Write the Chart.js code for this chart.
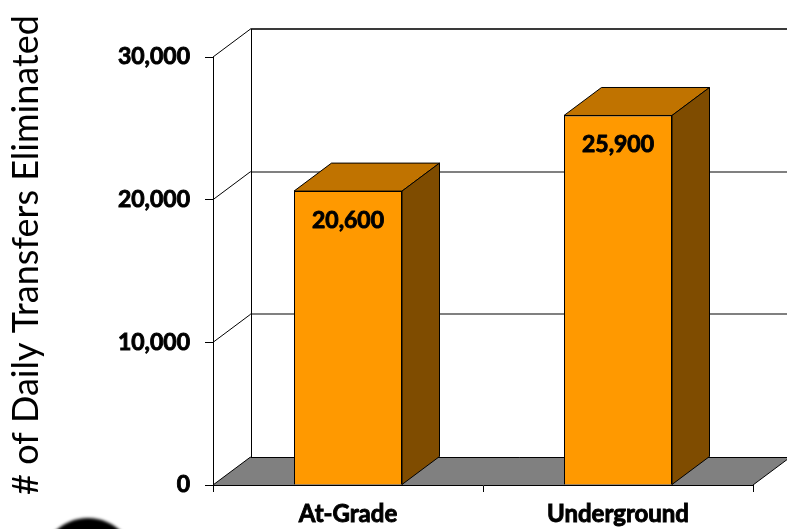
<!DOCTYPE html>
<html>
<head>
<meta charset="utf-8">
<title># of Daily Transfers Eliminated</title>
<script src="https://cdn.jsdelivr.net/npm/chart.js@4/dist/chart.umd.min.js"></script>
<style>
  html, body { margin: 0; padding: 0; background: #fff; overflow: hidden; }
  canvas { display: block; }
</style>
</head>
<body>
<canvas id="chart" width="787" height="529"></canvas>
<script>
// Daily transfers eliminated, by alignment option
const categories = ['At-Grade', 'Underground'];
const transfersEliminated = [20600, 25900];
const yTicks = [0, 10000, 20000, 30000];
const axisTitle = '# of Daily Transfers Eliminated';

// Oblique depth of the pseudo-3D box (walls, floor and bars)
const DX = 37.5;
const DY = -28;

const FONT = 'Lato, "Open Sans", "DejaVu Sans", sans-serif';
// extra outline to thicken the bold labels
const BOLD_STROKE = 0.9;

function poly(ctx, pts, fill, stroke) {
  ctx.beginPath();
  ctx.moveTo(pts[0][0], pts[0][1]);
  for (let i = 1; i < pts.length; i++) ctx.lineTo(pts[i][0], pts[i][1]);
  ctx.closePath();
  if (fill) { ctx.fillStyle = fill; ctx.fill(); }
  if (stroke) { ctx.strokeStyle = stroke; ctx.lineWidth = 1; ctx.stroke(); }
}

function line(ctx, x1, y1, x2, y2, color, w) {
  ctx.beginPath();
  ctx.moveTo(x1, y1);
  ctx.lineTo(x2, y2);
  ctx.strokeStyle = color;
  ctx.lineWidth = w || 1;
  ctx.stroke();
}

const depthPlugin = {
  id: 'depth3d',
  beforeDraw(chart) {
    const ctx = chart.ctx;
    ctx.save();
    ctx.fillStyle = '#ffffff';
    ctx.fillRect(0, 0, chart.width, chart.height);
    ctx.restore();
  },
  beforeDatasetsDraw(chart) {
    const { ctx, chartArea: a, scales: { y } } = chart;
    const farRight = chart.width + 20;
    const yMax = yTicks[yTicks.length - 1];
    ctx.save();

    // floor
    poly(ctx, [[a.left, a.bottom], [a.left + DX, a.bottom + DY],
               [a.right + DX, a.bottom + DY], [a.right, a.bottom]], '#808080');
    line(ctx, a.left, a.bottom, a.left + DX, a.bottom + DY, '#000');
    line(ctx, a.left + DX, Math.round(a.bottom + DY) + 0.5, farRight, Math.round(a.bottom + DY) + 0.5, '#000');
    line(ctx, a.right, a.bottom, a.right + DX, a.bottom + DY, '#000');

    // back-wall gridlines and side-wall diagonals
    yTicks.forEach(v => {
      const py = y.getPixelForValue(v);
      const by = Math.round(py + DY);
      if (v > 0 && v < yMax) line(ctx, a.left + DX, by, farRight, by, '#808080', 2);
      if (v === yMax) line(ctx, a.left + DX, by, farRight, by, '#3a3a3a', 2);
      if (v > 0) line(ctx, a.left, py, a.left + DX, py + DY, '#000');
    });

    // back-left corner of the walls
    const cx = Math.round(a.left + DX) + 0.5;
    line(ctx, cx, y.getPixelForValue(yMax) + DY, cx, a.bottom + DY, '#000');
    ctx.restore();
  },
  afterDatasetsDraw(chart) {
    const ctx = chart.ctx;
    const meta = chart.getDatasetMeta(0);
    ctx.save();
    meta.data.forEach((bar, i) => {
      const { x, y, width, base } = bar.getProps(['x', 'y', 'width', 'base'], true);
      const L = x - width / 2, R = x + width / 2, T = y, B = base;
      // top face
      poly(ctx, [[L, T], [L + DX, T + DY], [R + DX, T + DY], [R, T]], '#C07300', '#000');
      // side face
      poly(ctx, [[R, T], [R + DX, T + DY], [R + DX, B + DY], [R, B]], '#7F4C00', '#000');
      // value label
      const txt = transfersEliminated[i].toLocaleString('en-US');
      ctx.fillStyle = '#000';
      ctx.strokeStyle = '#000';
      ctx.lineWidth = BOLD_STROKE;
      ctx.lineJoin = 'round';
      ctx.font = 'bold 23px ' + FONT;
      ctx.textAlign = 'center';
      ctx.textBaseline = 'middle';
      ctx.fillText(txt, x, T + 29);
      ctx.strokeText(txt, x, T + 29);
    });
    ctx.restore();
  },
  afterDraw(chart) {
    const ctx = chart.ctx;
    ctx.save();
    // vertical axis title
    ctx.translate(38, 255);
    ctx.rotate(-Math.PI / 2);
    ctx.fillStyle = '#000';
    ctx.font = '36px ' + FONT;
    ctx.textAlign = 'center';
    ctx.textBaseline = 'alphabetic';
    ctx.fillText(axisTitle, 0, 0);
    ctx.restore();

    // dark round emblem at the lower left
    ctx.save();
    ctx.filter = 'blur(1.5px)';
    ctx.beginPath();
    ctx.arc(88, 566, 48, 0, Math.PI * 2);
    ctx.fillStyle = '#000';
    ctx.fill();
    ctx.restore();
  }
};

new Chart(document.getElementById('chart'), {
  type: 'bar',
  data: {
    labels: categories,
    datasets: [{
      data: transfersEliminated,
      backgroundColor: '#FF9900',
      borderColor: '#000',
      borderWidth: 1,
      barPercentage: 0.4,
      categoryPercentage: 1.0
    }]
  },
  options: {
    responsive: false,
    animation: false,
    events: [],
    layout: { padding: { top: 57, right: 34, left: 0, bottom: 0 } },
    plugins: {
      legend: { display: false },
      tooltip: { enabled: false },
      title: { display: false }
    },
    scales: {
      x: {
        offset: true,
        grid: {
          offset: true,
          drawOnChartArea: false,
          drawTicks: true,
          tickLength: 7,
          color: '#000'
        },
        border: { display: true, color: '#000', width: 1 },
        ticks: {
          color: '#000',
          padding: 8,
          textStrokeColor: '#000',
          textStrokeWidth: BOLD_STROKE,
          font: { family: FONT, size: 24, weight: 'bold' }
        },
        afterFit(scale) { scale.height = 44; }
      },
      y: {
        min: 0,
        max: yTicks[yTicks.length - 1],
        afterBuildTicks(scale) { scale.ticks = yTicks.map(v => ({ value: v })); },
        grid: {
          drawOnChartArea: false,
          drawTicks: true,
          tickLength: 8,
          color: '#000'
        },
        border: { display: true, color: '#000', width: 1 },
        ticks: {
          color: '#000',
          padding: 15,
          textStrokeColor: '#000',
          textStrokeWidth: BOLD_STROKE,
          font: { family: FONT, size: 23, weight: 'bold' },
          callback: v => Number(v).toLocaleString('en-US')
        },
        afterFit(scale) { scale.width = 213; }
      }
    }
  },
  plugins: [depthPlugin]
});
</script>
</body>
</html>
